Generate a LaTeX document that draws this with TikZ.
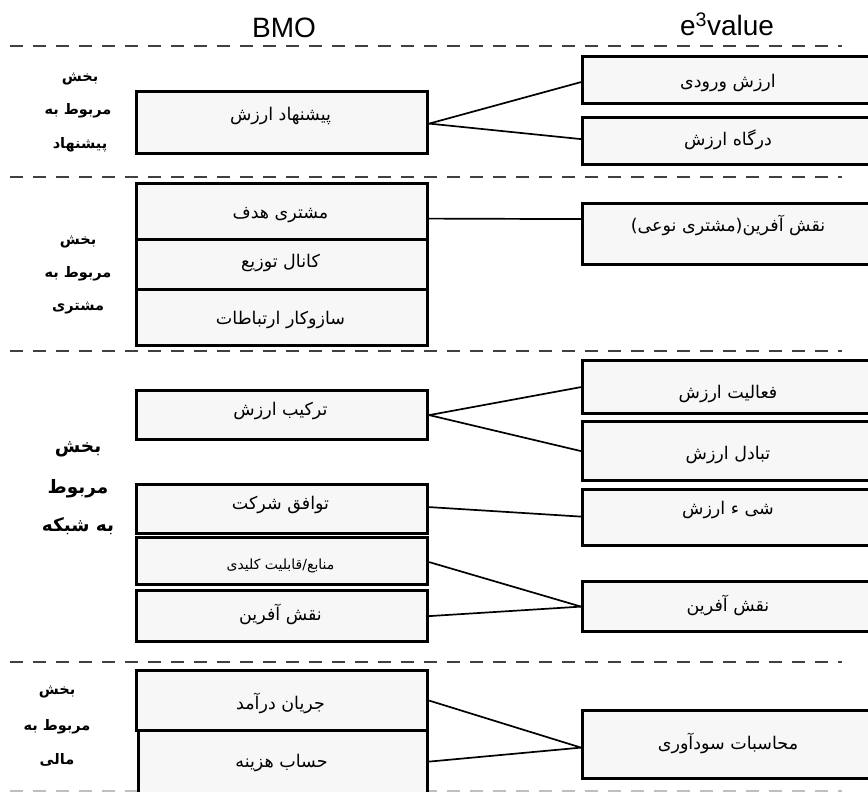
\documentclass[tikz,border=0pt]{standalone}
\usepackage{fontspec}
\setmainfont{Liberation Sans}
\newfontfamily\fa[Script=Arabic]{DejaVu Sans}
\TeXXeTstate=1
\usetikzlibrary{calc}
\definecolor{boxfill}{HTML}{F7F7F7}
\definecolor{dashcol}{HTML}{404040}
\tikzset{
  box/.style={draw=black, line width=3.2pt, fill=boxfill, anchor=north west, inner sep=0pt},
  txt/.style={font=\fa\fontsize{17.5}{20}\selectfont, inner sep=0pt},
  sect/.style={font=\fa\bfseries\fontsize{14.5}{16}\selectfont, inner sep=0pt},
  sectbig/.style={font=\fa\bfseries\fontsize{18.5}{21}\selectfont, inner sep=0pt},
  sep/.style={draw=dashcol, line width=2.8pt, dash pattern=on 13pt off 10pt},
  conn/.style={draw=black, line width=1.7pt},
  title/.style={font=\fontsize{28}{32}\selectfont, inner sep=0pt, anchor=base}
}
\newcommand{\bx}[7]{%
  \node[box, minimum width={(#4-#2)*1pt}, minimum height={(#5-#3)*1pt}] (#1) at (#2,#3) {};
  \node[txt] (#1t) at ({(#2+#4)/2},{#6+3}) {#7};
}
\begin{document}
\begin{tikzpicture}[x=1pt,y=-1pt]
\useasboundingbox (0,0) rectangle (868,792);
\clip (0,0) rectangle (868,792);
% titles
\node[title] (tbmo) at (284,38) {BMO};
\node[title] (te3) at (727,36) {e\textsuperscript{3}value};
% separators
\coordinate (s1a) at (10,46); \coordinate (s1b) at (842,46);
\coordinate (s2a) at (10,177); \coordinate (s2b) at (842,177);
\coordinate (s3a) at (10,351); \coordinate (s3b) at (842,351);
\coordinate (s4a) at (10,662); \coordinate (s4b) at (842,662);
\coordinate (s5a) at (10,791); \coordinate (s5b) at (842,791);
\draw[sep] (s1a) -- (s1b);
\draw[sep] (s2a) -- (s2b);
\draw[sep] (s3a) -- (s3b);
\draw[sep] (s4a) -- (s4b);
\draw[sep, draw=black!25] (s5a) -- (s5b);
% left boxes
\bx{pv}{135}{90}{426}{152}{113}{\beginR پیشنهاد ارزش\endR}
\bx{tc}{135}{182}{426}{238}{212}{\beginR مشتری هدف\endR}
\bx{dc}{135}{238}{426}{288}{260}{\beginR کانال توزیع\endR}
\bx{cm}{135}{288}{426}{344}{317}{\beginR سازوکار ارتباطات\endR}
\bx{vc}{135}{389}{426}{438}{408}{\beginR ترکیب ارزش\endR}
\bx{pa}{135}{483}{426}{532}{502}{\beginR توافق شرکت\endR}
\bx{kr}{135}{536}{426}{583}{563}{\fontsize{14}{16}\selectfont\beginR منابع/قابلیت کلیدی\endR}
\bx{ac}{135}{589}{426}{640}{611}{\beginR نقش آفرین\endR}
\bx{rs}{135}{669}{426}{729}{700}{\beginR جریان درآمد\endR}
\bx{cs}{137}{729}{426}{800}{760}{\beginR حساب هزینه\endR}
% right boxes
\bx{vi}{581}{55}{875}{102}{80}{\beginR ارزش ورودی\endR}
\bx{vp}{581}{116}{875}{163}{137}{\beginR درگاه ارزش\endR}
\bx{ar}{581}{202}{875}{263}{222}{\beginR نقش آفرین(مشتری نوعی)\endR}
\bx{va}{581}{359}{875}{412}{391}{\beginR فعالیت ارزش\endR}
\bx{ve}{581}{420}{875}{479}{452}{\beginR تبادل ارزش\endR}
\bx{vo}{581}{488}{875}{544}{507}{\beginR شی ء ارزش\endR}
\bx{ra}{581}{580}{875}{630}{602}{\beginR نقش آفرین\endR}
\bx{pc}{581}{709}{875}{777}{740}{\beginR محاسبات سودآوری\endR}
% section labels
\node[sect] (l1a) at (80,79) {\beginR بخش\endR};
\node[sect] (l1b) at (78,111) {\beginR مربوط به\endR};
\node[sect] (l1c) at (80,145) {\beginR پیشنهاد\endR};
\node[sect] (l2a) at (78,242) {\beginR بخش\endR};
\node[sect] (l2b) at (78,274) {\beginR مربوط به\endR};
\node[sect] (l2c) at (78,308) {\beginR مشتری\endR};
\node[sectbig] (l3a) at (78,449) {\beginR بخش\endR};
\node[sectbig] (l3b) at (78,489) {\beginR مربوط\endR};
\node[sectbig] (l3c) at (78,526) {\beginR به شبکه\endR};
\node[sect] (l4a) at (57,692) {\beginR بخش\endR};
\node[sect] (l4b) at (57,727) {\beginR مربوط به\endR};
\node[sect] (l4c) at (57,760) {\beginR مالی\endR};
% connectors
\draw[conn] ([yshift=-1pt]pv.east) -- ([yshift=-2pt]vi.west);
\draw[conn] ([yshift=-1pt]pv.east) -- ([yshift=2pt]vp.west);
\draw[conn] ([yshift=-7pt]tc.east) -- ([yshift=15pt]ar.west);
\draw[conn] ([yshift=0pt]vc.east) -- ([yshift=0pt]va.west);
\draw[conn] ([yshift=0pt]vc.east) -- ([yshift=0pt]ve.west);
\draw[conn] ([yshift=2pt]pa.east) -- ([yshift=1pt]vo.west);
\draw[conn] ([yshift=-1pt]kr.east) -- (ra.west);
\draw[conn] ([yshift=0pt]ac.east) -- (ra.west);
\draw[conn] ([yshift=0pt]rs.east) -- ([yshift=-3pt]pc.west);
\draw[conn] ([yshift=4.5pt]cs.east) -- ([yshift=-3pt]pc.west);
\end{tikzpicture}
\end{document}
